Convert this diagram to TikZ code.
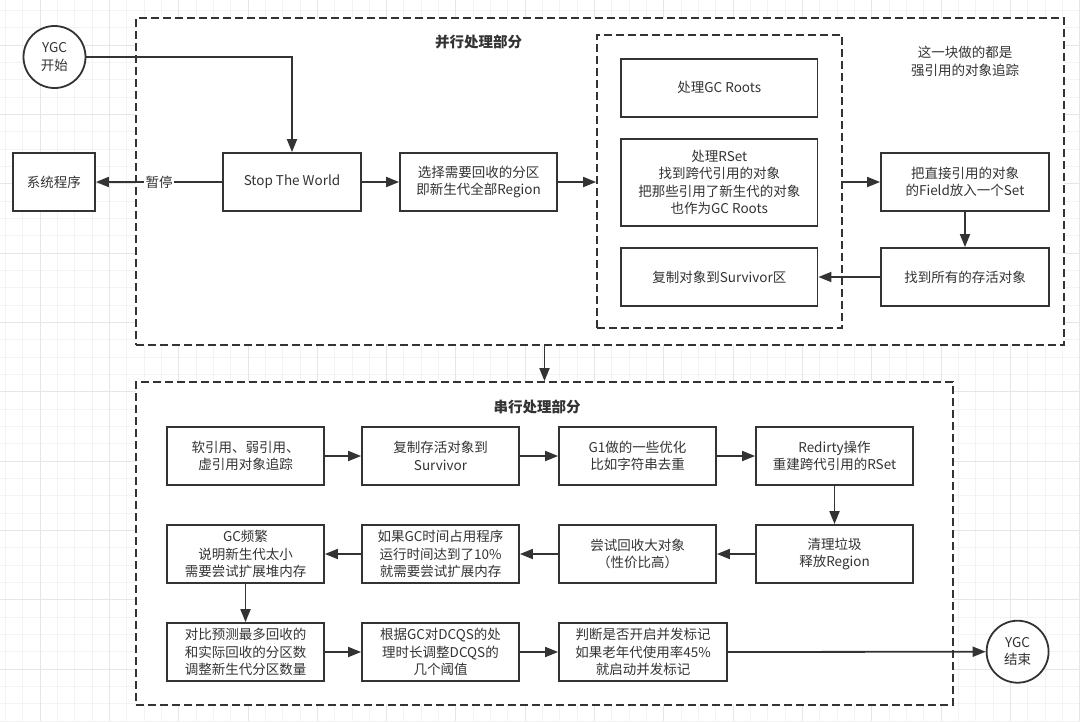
\documentclass[tikz,border=0pt]{standalone}
\usepackage{fontspec}
\setmainfont{Noto Sans CJK SC}
\usetikzlibrary{arrows.meta,calc}
\definecolor{ink}{HTML}{333333}
\definecolor{gridminor}{HTML}{F3F3F3}
\definecolor{gridmajor}{HTML}{E6E6E6}
\begin{document}
\begin{tikzpicture}[x=1pt,y=-1pt,
  every node/.style={font=\fontsize{13.5}{17.4}\selectfont, text=ink},
  box/.style={draw=ink, line width=1.8pt, align=center, inner sep=0pt, minimum height=58pt, minimum width=157pt},
  circ/.style={draw=ink, line width=1.8pt, circle, align=center, inner sep=0pt, minimum size=62pt},
  dashbox/.style={draw=ink, line width=1.8pt, dash pattern=on 8pt off 4pt, inner sep=0pt},
  arr/.style={draw=ink, line width=1.8pt, -{Triangle[length=13pt,width=10pt]}},
  ttl/.style={font=\fontsize{14.5}{17}\selectfont\bfseries},
  lbl/.style={fill=white, inner sep=1.5pt}
]
\useasboundingbox (0,0) rectangle (1080,721);
\fill[white] (0,0) rectangle (1080,721);
% background grid
\foreach \i in {0,...,62} { \draw[gridminor, line width=0.8pt] (5.3+17.33*\i,0) -- ++(0,721); }
\foreach \j in {0,...,41} { \draw[gridminor, line width=0.8pt] (0,10.4+17.33*\j) -- ++(1080,0); }
\foreach \i in {2,6,...,62} { \draw[gridmajor, line width=0.8pt] (5.3+17.33*\i,0) -- ++(0,721); }
\foreach \j in {2,6,...,41} { \draw[gridmajor, line width=0.8pt] (0,10.4+17.33*\j) -- ++(1080,0); }

% containers
\node[dashbox, fill=white, minimum width=928pt, minimum height=327pt] (par) at (600,181.5) {};
\node[dashbox, fill=white, minimum width=817pt, minimum height=323pt] (ser) at (544.5,543.5) {};
\node[dashbox, minimum width=245pt, minimum height=293pt] (inner) at (719.5,181.5) {};
\node[ttl] (t1) at (478.6,42) {并行处理部分};
\node[ttl] (t2) at (537,407) {串行处理部分};
\node[align=center] (note) at (965,61.5) {这一块做的都是\\强引用的对象追踪};

% parallel part
\node[circ, fill=white] (start) at (54.5,57) {YGC\\开始};
\node[box, fill=white, minimum width=82pt] (sys) at (54,182) {系统程序};
\node[box, minimum width=138pt] (stw) at (292,182) {Stop The World};
\node[box] (sel) at (478.5,182) {选择需要回收的分区\\即新生代全部Region};
\node[box, minimum width=196.5pt] (gcr) at (719.3,87.7) {处理GC Roots};
\node[box, minimum width=196.5pt, minimum height=87pt] (rset) at (719.3,182.5) {处理RSet\\找到跨代引用的对象\\把那些引用了新生代的对象\\也作为GC Roots};
\node[box, minimum width=196.5pt] (copy) at (719.3,277) {复制对象到Survivor区};
\node[box, minimum width=168pt] (field) at (965,182) {把直接引用的对象\\的Field放入一个Set};
\node[box, minimum width=168pt] (live) at (965,277) {找到所有的存活对象};

\draw[arr] (start.east) -| (stw.north);
\draw[arr] (stw.west) -- node[lbl] (pause) {暂停} (sys.east);
\draw[arr] (stw.east) -- (sel.west);
\draw[arr] (sel.east) -- (sel.east -| inner.west);
\draw[arr] (inner.east |- field.west) -- (field.west);
\draw[arr] (field.south) -- (live.north);
\draw[arr] (live.west) -- (copy.east);
\draw[arr] (par.south -| ser.north) -- (ser.north);

% serial part
\node[box] (a1) at (245.5,456) {软引用、弱引用、\\虚引用对象追踪};
\node[box] (b1) at (440.5,456) {复制存活对象到\\Survivor};
\node[box] (c1) at (637.5,456) {G1做的一些优化\\比如字符串去重};
\node[box] (d1) at (834.5,456) {Redirty操作\\重建跨代引用的RSet};
\node[box] (d2) at (834.5,554) {清理垃圾\\释放Region};
\node[box] (c2) at (637.5,554) {尝试回收大对象\\（性价比高）};
\node[box] (b2) at (440.5,554) {如果GC时间占用程序\\运行时间达到了10\%\\就需要尝试扩展内存};
\node[box] (a2) at (245.5,554) {GC频繁\\说明新生代太小\\需要尝试扩展堆内存};
\node[box] (a3) at (245.5,652) {对比预测最多回收的\\和实际回收的分区数\\调整新生代分区数量};
\node[box] (b3) at (440.5,652) {根据GC对DCQS的处\\理时长调整DCQS的\\几个阈值};
\node[box, minimum width=168pt] (c3) at (643,652) {判断是否开启并发标记\\如果老年代使用率45\%\\就启动并发标记};
\node[circ, fill=white] (end) at (1017.6,651.7) {YGC\\结束};

\draw[arr] (a1) -- (b1);
\draw[arr] (b1) -- (c1);
\draw[arr] (c1) -- (d1);
\draw[arr] (d1) -- (d2);
\draw[arr] (d2) -- (c2);
\draw[arr] (c2) -- (b2);
\draw[arr] (b2) -- (a2);
\draw[arr] (a2) -- (a3);
\draw[arr] (a3) -- (b3);
\draw[arr] (b3) -- (c3);
\draw[arr] (c3.east) -- (end.west);
\end{tikzpicture}
\end{document}
